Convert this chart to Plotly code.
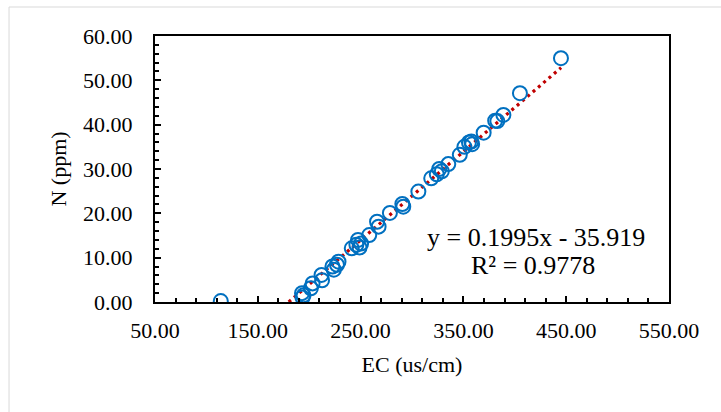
import numpy as np
import plotly.graph_objects as go

# EC (us/cm) vs N (ppm) samples
ec = [114, 193, 193.5, 194.5, 201.6, 203.3, 212, 212.5, 222.6, 224, 227, 228.5,
      241.4, 245.9, 247.5, 249, 250.5, 258.4, 266, 267.5, 278.5, 290.6, 291.5,
      306.2, 318.7, 324.1, 326.5, 329, 335.3, 346.5, 351, 355.4, 357.7, 358.5,
      369.7, 380.9, 383, 388.9, 405, 444.9]
n_ppm = [0.2, 2.0, 1.0, 1.5, 3.1, 4.2, 6.1, 4.9, 8.0, 7.3, 8.4, 9.1,
         12.1, 12.9, 14.0, 12.3, 13.2, 15.1, 18.1, 17.0, 20.1, 22.1, 21.5,
         24.9, 27.9, 28.8, 30.0, 29.5, 31.1, 33.2, 35.0, 36.0, 36.2, 35.6,
         38.2, 40.9, 40.8, 42.2, 47.1, 55.0]

# Linear trend reported for the fit
slope = 0.1995
intercept = -35.919
r_squared = 0.9778
trend_x_end = 445

x_ticks = [50, 150, 250, 350, 450, 550]
y_ticks = [0, 10, 20, 30, 40, 50, 60]

font_family = "Liberation Serif, Times New Roman, serif"

fig = go.Figure()

tx = np.linspace(-intercept / slope, trend_x_end, 200)
fig.add_trace(go.Scatter(
    x=tx, y=slope * tx + intercept, mode="lines",
    line=dict(color="#C00000", width=3.2, dash="3px,4px"),
    hoverinfo="skip", showlegend=False,
))

fig.add_trace(go.Scatter(
    x=ec, y=n_ppm, mode="markers",
    marker=dict(symbol="circle-open", size=14, color="#0070C0",
                line=dict(width=2, color="#0070C0")),
    showlegend=False,
))

eq_font = dict(family=font_family, size=26, color="black")
fig.add_annotation(
    x=0.742, y=0.244, xref="paper", yref="paper", xanchor="center", yanchor="middle",
    text=f"y = {slope}x - {abs(intercept)}", showarrow=False, font=eq_font,
)
fig.add_annotation(
    x=0.735, y=0.139, xref="paper", yref="paper", xanchor="center", yanchor="middle",
    text=f"R² = {r_squared}", showarrow=False, font=eq_font,
)

# light outer chart border
fig.add_shape(type="rect", xref="paper", yref="paper",
              x0=-0.284, y0=-2, x1=3, y1=1.109,
              line=dict(color="#d9d9d9", width=1), layer="below")

axis_common = dict(
    showline=True, linecolor="black", linewidth=2, mirror=True,
    showgrid=False, zeroline=False,
    ticks="inside", ticklen=6, tickwidth=1.5, tickcolor="black",
    tickfont=dict(family=font_family, size=22, color="black"),
)

fig.update_xaxes(
    range=[50, 550], tickvals=x_ticks, ticktext=[f"{v:.2f}" for v in x_ticks],
    minor=dict(ticks="inside", ticklen=4, tickwidth=1.5, tickcolor="black",
               dtick=20, tick0=50, showgrid=False),
    ticklabelstandoff=8,
    title=dict(text="EC (us/cm)", font=dict(family=font_family, size=22, color="black"),
               standoff=14),
    **axis_common,
)
fig.update_yaxes(
    range=[0, 60], tickvals=y_ticks, ticktext=[f"{v:.2f}" for v in y_ticks],
    minor=dict(ticks="inside", ticklen=4, tickwidth=1.5, tickcolor="black",
               dtick=2, tick0=0, showgrid=False),
    ticklabelstandoff=16,
    title=dict(text="N (ppm)", font=dict(family=font_family, size=22, color="black"),
               standoff=10),
    **axis_common,
)

fig.update_layout(
    width=721, height=412,
    margin=dict(l=155, r=52, t=36, b=110),
    plot_bgcolor="white", paper_bgcolor="white",
)

fig.write_html("out.html")
